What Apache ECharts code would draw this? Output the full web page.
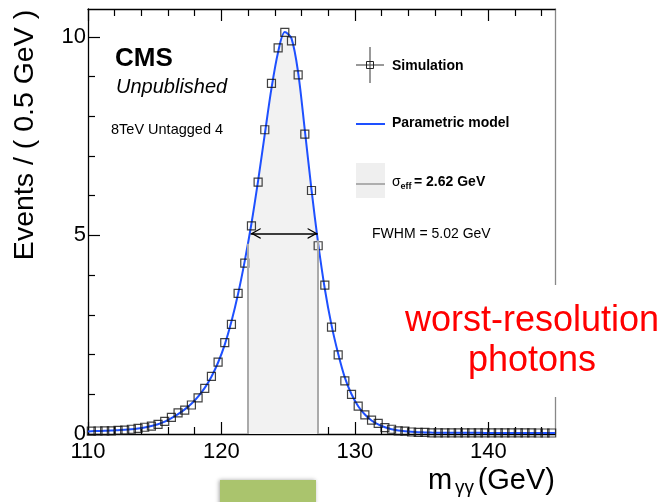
<!DOCTYPE html>
<html>
<head>
<meta charset="utf-8">
<script src="https://cdn.jsdelivr.net/npm/echarts@6/dist/echarts.min.js"></script>
<style>
  html, body { margin: 0; padding: 0; background: #ffffff; }
  #chart { width: 666px; height: 502px; }
</style>
</head>
<body>
<div id="chart"></div>
<script>
// Diphoton mass bins (0.5 GeV wide), bin centres in GeV
const massBins = [
  110.25, 110.75, 111.25, 111.75, 112.25, 112.75, 113.25, 113.75, 114.25, 114.75,
  115.25, 115.75, 116.25, 116.75, 117.25, 117.75, 118.25, 118.75, 119.25, 119.75,
  120.25, 120.75, 121.25, 121.75, 122.25, 122.75, 123.25, 123.75, 124.25, 124.75,
  125.25, 125.75, 126.25, 126.75, 127.25, 127.75, 128.25, 128.75, 129.25, 129.75,
  130.25, 130.75, 131.25, 131.75, 132.25, 132.75, 133.25, 133.75, 134.25, 134.75,
  135.25, 135.75, 136.25, 136.75, 137.25, 137.75, 138.25, 138.75, 139.25, 139.75,
  140.25, 140.75, 141.25, 141.75, 142.25, 142.75, 143.25, 143.75, 144.25, 144.75
];
// Simulated events per bin
const simEvents = [
  0.07, 0.075, 0.08, 0.08, 0.09, 0.10, 0.12, 0.14, 0.17, 0.20,
  0.24, 0.32, 0.42, 0.53, 0.60, 0.73, 0.91, 1.15, 1.45, 1.81,
  2.30, 2.76, 3.54, 4.30, 5.24, 6.34, 7.66, 8.83, 9.72, 10.11,
  9.90, 9.04, 7.55, 6.13, 4.74, 3.75, 2.69, 1.99, 1.34, 1.00,
  0.70, 0.48, 0.35, 0.27, 0.16, 0.12, 0.08, 0.07, 0.05, 0.04,
  0.04, 0.03, 0.03, 0.03, 0.03, 0.03, 0.03, 0.03, 0.03, 0.03,
  0.03, 0.03, 0.03, 0.03, 0.03, 0.03, 0.03, 0.025, 0.025, 0.025
];
// Parametric signal model sampled along the mass axis
const modelMass = [
  110.0, 110.25, 110.75, 111.25, 111.75, 112.25, 112.75, 113.25, 113.75, 114.25, 114.75,
  115.25, 115.75, 116.25, 116.75, 117.25, 117.75, 118.25, 118.75, 119.25, 119.75,
  120.25, 120.75, 121.25, 121.75, 122.25, 122.75, 123.25, 123.75, 124.25, 124.75,
  125.25, 125.75, 126.25, 126.75, 127.25, 127.75, 128.25, 128.75, 129.25, 129.75,
  130.25, 130.75, 131.25, 131.75, 132.25, 132.75, 133.25, 133.75, 134.25, 134.75,
  135.25, 135.75, 136.25, 136.75, 137.25, 137.75, 138.25, 138.75, 139.25, 139.75,
  140.25, 140.75, 141.25, 141.75, 142.25, 142.75, 143.25, 143.75, 144.25, 144.75, 145.0
];
const modelEvents = [
  0.065, 0.07, 0.075, 0.08, 0.085, 0.095, 0.105, 0.12, 0.14, 0.165, 0.20,
  0.245, 0.31, 0.40, 0.50, 0.62, 0.76, 0.94, 1.16, 1.44, 1.80,
  2.25, 2.83, 3.53, 4.36, 5.30, 6.38, 7.55, 8.70, 9.62, 10.12,
  9.96, 9.10, 7.65, 6.15, 4.80, 3.65, 2.74, 2.02, 1.42, 1.00,
  0.70, 0.49, 0.34, 0.24, 0.17, 0.12, 0.09, 0.07, 0.055, 0.045,
  0.04, 0.035, 0.033, 0.03, 0.03, 0.03, 0.03, 0.029, 0.029, 0.028,
  0.028, 0.027, 0.027, 0.027, 0.026, 0.026, 0.026, 0.025, 0.025, 0.025, 0.025
];
// Effective width (half of the smallest 68.3% interval) and FWHM, GeV
const sigmaEff = 2.62;
const sigmaEffCentre = 124.60;
const sigmaEffEdgeEvents = [4.79, 4.88];
const fwhm = 5.02;
const fwhmLow = 122.19;
const fwhmLevel = 5.05;

// Axis ticks
const xMajorTicks = [110, 120, 130, 140];
const xMinorTicks = [112, 114, 116, 118, 122, 124, 126, 128, 132, 134, 136, 138, 142, 144];
const yMajorTicks = [0, 5, 10];
const yMinorTicks = [1, 2, 3, 4, 6, 7, 8, 9];

const FONT = '"Liberation Sans", Arial, Helvetica, sans-serif';
const MODEL_BLUE = '#1e50ff';

const sigLo = sigmaEffCentre - sigmaEff;
const sigHi = sigmaEffCentre + sigmaEff;
const fwhmHigh = fwhmLow + fwhm;

const simPts = massBins.map((m, i) => [m, simEvents[i]]);
const modelPts = modelMass.map((m, i) => [m, modelEvents[i]]);
const sigmaPts = [[sigLo, sigmaEffEdgeEvents[0]]]
  .concat(modelPts.filter(p => p[0] > sigLo && p[0] < sigHi))
  .concat([[sigHi, sigmaEffEdgeEvents[1]]]);

// open chevron arrow head, tip at the symbol centre
const chevron = 'path://M5,0 L10,10 L8.7,10 L5,2.6 L1.3,10 L0,10 Z M5,-10 L5,-10 Z';

function xAxisDef(pos, ticks, len, withLine, withLabels) {
  return {
    type: 'value', min: 110, max: 145, position: pos,
    axisLine: { show: withLine, onZero: false, lineStyle: { color: '#000', width: 1.3 } },
    axisTick: { show: true, inside: true, length: len, customValues: ticks,
                lineStyle: { color: '#000', width: 1.2 } },
    axisLabel: withLabels
      ? { show: true, customValues: ticks, fontSize: 22, fontFamily: FONT, color: '#000', margin: 7 }
      : { show: false },
    splitLine: { show: false }
  };
}
function yAxisDef(pos, ticks, len, withLine, withLabels, lineColor) {
  return {
    type: 'value', min: 0, max: 10.7, position: pos,
    axisLine: { show: withLine, onZero: false, lineStyle: { color: lineColor || '#000', width: 1.3 } },
    axisTick: ticks ? { show: true, inside: true, length: len, customValues: ticks,
                        lineStyle: { color: '#000', width: 1.2 } } : { show: false },
    axisLabel: withLabels
      ? { show: true, customValues: ticks, fontSize: 22, fontFamily: FONT, color: '#000', margin: 2 }
      : { show: false },
    splitLine: { show: false }
  };
}

function txt(x, y, text, font, extra) {
  return Object.assign({
    type: 'text', x: x, y: y, z: 101,
    style: Object.assign({
      text: text, font: font, fill: '#000',
      align: 'left', verticalAlign: 'middle',
      textAlign: 'left', textVerticalAlign: 'middle'
    }, (extra && extra.style) || {})
  }, extra && extra.el ? extra.el : {});
}
function seg(x1, y1, x2, y2, color, w) {
  return { type: 'line', z: 101, shape: { x1: x1, y1: y1, x2: x2, y2: y2 },
           style: { stroke: color, lineWidth: w } };
}

const chart = echarts.init(document.getElementById('chart'), null, { renderer: 'canvas' });

chart.setOption({
  animation: false,
  backgroundColor: '#ffffff',
  grid: { left: 88, right: 111, top: 9, bottom: 68, containLabel: false },
  xAxis: [
    xAxisDef('bottom', xMajorTicks, 12, true, true),
    xAxisDef('bottom', xMinorTicks, 7, false, false),
    xAxisDef('top', xMajorTicks, 12, true, false),
    xAxisDef('top', xMinorTicks, 7, false, false)
  ],
  yAxis: [
    yAxisDef('left', yMajorTicks, 12, true, true),
    yAxisDef('left', yMinorTicks, 7, false, false),
    yAxisDef('right', null, 0, true, false, '#888')
  ],
  series: [
    {
      name: 'sigma_eff', type: 'line', xAxisIndex: 0, yAxisIndex: 0,
      data: sigmaPts, smooth: 0.3, symbol: 'none', z: 1, silent: true,
      lineStyle: { width: 0, opacity: 0 },
      areaStyle: { color: '#f2f2f2', opacity: 1 },
      markLine: {
        silent: true, symbol: 'none', animation: false,
        label: { show: false },
        lineStyle: { color: '#aaaaaa', width: 2, type: 'solid' },
        data: [
          [{ coord: [sigLo, 0] }, { coord: [sigLo, sigmaEffEdgeEvents[0]] }],
          [{ coord: [sigHi, 0] }, { coord: [sigHi, sigmaEffEdgeEvents[1]] }]
        ]
      }
    },
    {
      name: 'Parametric model', type: 'line', xAxisIndex: 0, yAxisIndex: 0,
      data: modelPts, smooth: 0.3, symbol: 'none', z: 3, silent: true,
      lineStyle: { color: MODEL_BLUE, width: 2 },
      markLine: {
        silent: true, animation: false,
        symbol: [chevron, chevron], symbolSize: [11, 20],
        label: { show: false },
        lineStyle: { color: '#000', width: 1.6, type: 'solid' },
        data: [[{ coord: [fwhmLow, fwhmLevel] }, { coord: [fwhmHigh, fwhmLevel] }]]
      }
    },
    {
      name: 'Simulation', type: 'scatter', xAxisIndex: 0, yAxisIndex: 0,
      data: simPts, symbol: 'rect', symbolSize: 8, z: 4, silent: true,
      itemStyle: { color: 'rgba(255,255,255,0)', borderColor: '#111', borderWidth: 1.2 }
    }
  ],
  graphic: [
    // experiment labels
    txt(115, 58.5, 'CMS', 'bold 26px ' + FONT),
    txt(116, 87.5, 'Unpublished', 'italic 20px ' + FONT),
    txt(111, 129.7, '8TeV Untagged 4', '14.5px ' + FONT),

    // legend: simulation
    seg(356, 65, 384, 65, '#555', 1.2),
    seg(370, 47, 370, 83, '#555', 1.2),
    { type: 'rect', z: 101, shape: { x: 366.5, y: 61.5, width: 7, height: 7 },
      style: { fill: 'none', stroke: '#222', lineWidth: 1 } },
    txt(392, 65.7, 'Simulation', 'bold 14px ' + FONT),

    // legend: model
    seg(356, 124, 385, 124, MODEL_BLUE, 2),
    txt(392, 123.5, 'Parametric model', 'bold 14px ' + FONT),

    // legend: sigma_eff band
    { type: 'rect', z: 100, shape: { x: 356, y: 163, width: 29, height: 35 },
      style: { fill: '#efefef' } },
    seg(356, 184, 385, 184, '#999', 1.5),
    txt(392, 181.8, 'σ', '14px ' + FONT),
    txt(400.5, 186.3, 'eff', 'bold 9px ' + FONT),
    txt(414, 181.8, '= ' + sigmaEff.toFixed(2) + ' GeV', 'bold 14px ' + FONT),

    txt(372, 234.4, 'FWHM = ' + fwhm.toFixed(2) + ' GeV', '14px ' + FONT),

    // axis titles
    txt(25, 135, 'Events / ( 0.5 GeV )', '28.5px ' + FONT,
        { style: { align: 'center', textAlign: 'center' }, el: { rotation: Math.PI / 2 } }),
    txt(428, 480.5, 'm', '29px ' + FONT),
    txt(455, 487.5, 'γγ', '19px ' + FONT),
    txt(555, 480.5, '(GeV)', '29px ' + FONT, { style: { align: 'right', textAlign: 'right' } }),

    // annotation
    { type: 'rect', z: 100, shape: { x: 396, y: 285, width: 270, height: 112 },
      style: { fill: '#ffffff' } },
    txt(532, 321, 'worst-resolution', '36px ' + FONT,
        { style: { fill: '#ff0000', align: 'center', textAlign: 'center' } }),
    txt(532, 361, 'photons', '36px ' + FONT,
        { style: { fill: '#ff0000', align: 'center', textAlign: 'center' } }),

    // slide tab at the bottom edge
    { type: 'rect', z: 100, shape: { x: 220, y: 480, width: 96, height: 30 },
      style: { fill: '#aac46d', shadowBlur: 4, shadowColor: 'rgba(0,0,0,0.35)', shadowOffsetX: -1 } }
  ]
});
</script>
</body>
</html>
